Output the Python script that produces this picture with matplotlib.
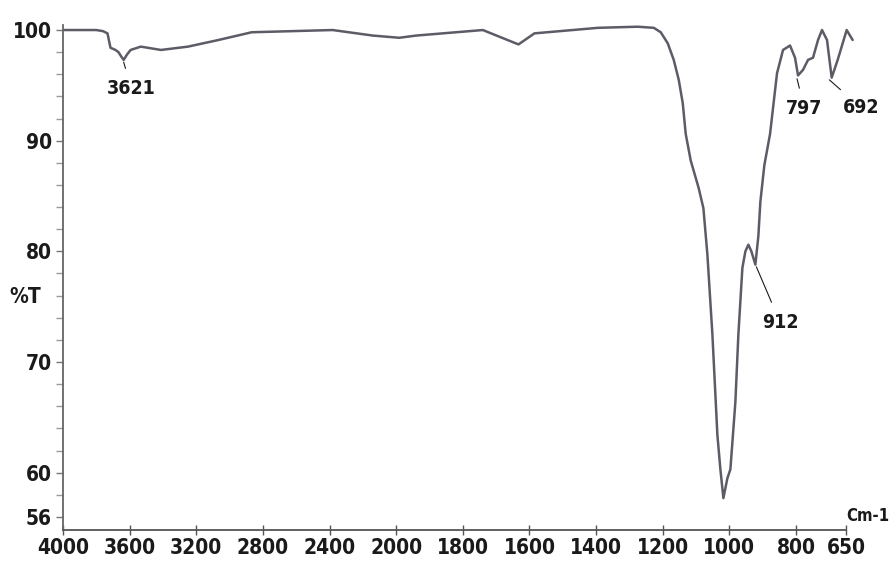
import matplotlib
matplotlib.use("Agg")
import matplotlib.pyplot as plt
import matplotlib.transforms as mtransforms
import numpy as np

# FTIR spectrum (wavenumber in cm-1, transmittance in %)
wavenumber = [
    4000, 3900, 3800, 3760, 3733, 3715, 3700, 3685, 3667, 3650, 3636, 3615,
    3594, 3533, 3412, 3250, 3067, 2867, 2624, 2382, 2140, 1991, 1940, 1740,
    1633, 1585, 1394, 1275, 1227, 1206, 1185, 1167, 1152, 1140, 1131,
    1116, 1092, 1078, 1066, 1051, 1036, 1027, 1018, 1006, 997, 982, 973,
    961, 952, 943, 934, 922, 913, 907, 895, 878, 857, 839, 818, 803, 794, 779,
    764, 749, 734, 722, 707, 693, 675, 648, 630,
]
transmittance = [
    100.0, 100.0, 100.0, 99.9, 99.7, 98.4, 98.3, 98.2, 98.0, 97.6, 97.3, 97.8,
    98.2, 98.5, 98.2, 98.5, 99.1, 99.8, 99.9, 100.0, 99.5, 99.3, 99.5, 100.0,
    98.7, 99.7, 100.2, 100.3, 100.2, 99.8, 98.8, 97.3, 95.5, 93.4, 90.6,
    88.2, 85.7, 83.9, 79.7, 72.5, 63.4, 60.3, 57.7, 59.5, 60.3, 66.4, 72.5,
    78.5, 80.0, 80.6, 80.0, 78.8, 81.4, 84.5, 87.8, 90.6, 96.1, 98.2, 98.6, 97.5, 95.9, 96.4,
    97.3, 97.5, 99.1, 100.0, 99.1, 95.7, 97.3, 100.0, 99.1,
]

# peak labels: (text, point on curve, text position)
peak_labels = ["3621", "912", "797", "692"]
peak_points = [(3636, 97.1), (919, 78.6), (797, 95.6), (700, 95.5)]
label_points = [(3588, 94.7), (848, 73.6), (775, 92.9), (606, 93.0)]

x_ticks = [4000, 3600, 3200, 2800, 2400, 2000, 1800, 1600, 1400, 1200, 1000, 800, 650]
y_ticks = [56, 60, 70, 80, 90, 100]

plt.rcParams["font.family"] = ["DejaVu Sans"]
plt.rcParams["font.stretch"] = "condensed"
plt.rcParams["font.weight"] = "bold"

TEXT = "#1a1a1a"
LINE = "#5c5c66"


def forward(w):
    # 4000-2000 cm-1 drawn at half the scale of 2000-650 cm-1
    w = np.asarray(w, dtype=float)
    return np.where(w >= 2000, 2000 + (w - 2000) / 2.0, w)


def inverse(p):
    p = np.asarray(p, dtype=float)
    return np.where(p >= 2000, 2000 + (p - 2000) * 2.0, p)


fig = plt.figure(figsize=(8.89, 5.70), dpi=100)
ax = fig.add_axes([63 / 889, 1 - 530 / 570, (856 - 63) / 889, (530 - 24.5) / 570])

ax.set_xscale("function", functions=(forward, inverse))
ax.plot(wavenumber, transmittance, color=LINE, linewidth=1.8,
        solid_joinstyle="round", solid_capstyle="round")

ax.set_xlim(4000, 620)
ax.set_ylim(54.82, 100.5)

for text, point, pos in zip(peak_labels, peak_points, label_points):
    ax.annotate(
        text, xy=point, xytext=pos, ha="center", va="center",
        fontsize=14, color=TEXT,
        arrowprops=dict(arrowstyle="-", color=TEXT, linewidth=0.8, shrinkA=6, shrinkB=0),
    )

ax.set_xticks(x_ticks)
ax.set_xticklabels([str(t) for t in x_ticks])
ax.xaxis.set_minor_locator(matplotlib.ticker.NullLocator())
ax.set_yticks(y_ticks)
ax.set_yticks([y for y in range(58, 100, 2) if y not in y_ticks], minor=True)

ax.tick_params(axis="x", direction="inout", length=7, width=1, colors="#555555",
               labelcolor=TEXT, labelsize=15, pad=2)
ax.tick_params(axis="y", which="major", direction="out", length=5, width=1,
               colors="#777777", labelcolor=TEXT, labelsize=15, pad=3)
ax.tick_params(axis="y", which="minor", direction="out", length=5, width=1, colors="#999999")

for side in ("top", "right"):
    ax.spines[side].set_visible(False)
ax.spines["left"].set_color("#666666")
ax.spines["bottom"].set_color("#555555")
ax.spines["left"].set_linewidth(1.3)
ax.spines["bottom"].set_linewidth(1.3)
ax.spines["bottom"].set_bounds(4000, 650)

trans = mtransforms.blended_transform_factory(ax.transAxes, ax.transData)
ax.text(-0.048, 75.9, "%T", transform=trans, ha="center", va="center",
        fontsize=15, color=TEXT)
ax.text(648, 56.1, "Cm-1", ha="left", va="center", fontsize=12, color=TEXT,
        clip_on=False)

fig.savefig("out.png", dpi=100, facecolor="white")
